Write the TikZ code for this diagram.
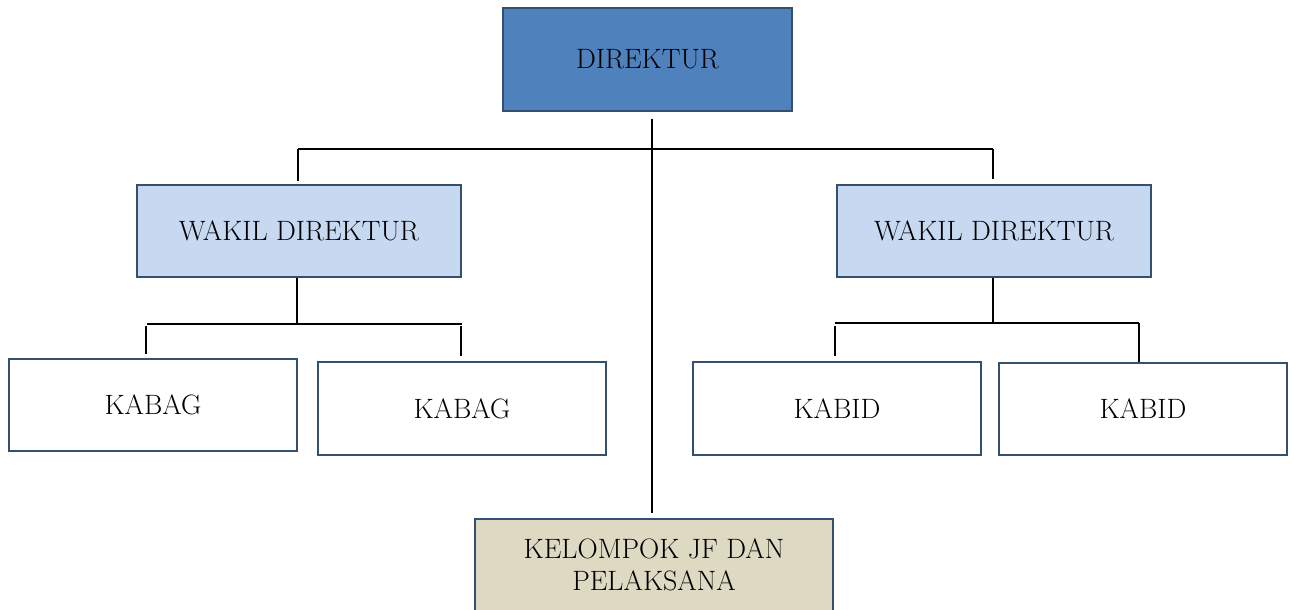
\documentclass[tikz,border=0pt]{standalone}
\usepackage{xcolor}
\definecolor{boxline}{HTML}{34506F}
\definecolor{dirfill}{HTML}{4F81BD}
\definecolor{wakilfill}{HTML}{C6D9F1}
\definecolor{kelfill}{HTML}{DDD9C3}
\begin{document}
\begin{tikzpicture}[x=1pt,y=-1pt,
  orgbox/.style={draw=boxline,line width=1.8pt,rectangle,inner sep=0pt,
    font=\fontsize{28}{33}\selectfont,align=center},
  link/.style={draw=black,line width=2.2pt}]
\useasboundingbox (0,0) rectangle (1294,610);

% boxes, positioned by their centres
\node[orgbox,fill=dirfill,minimum width=289pt,minimum height=103pt] (dir) at (647.5,59.5) {DIREKTUR};
\node[orgbox,fill=wakilfill,minimum width=324pt,minimum height=92pt] (wl) at (299,231) {WAKIL DIREKTUR};
\node[orgbox,fill=wakilfill,minimum width=314pt,minimum height=92pt] (wr) at (994,231) {WAKIL DIREKTUR};
\node[orgbox,fill=white,minimum width=288pt,minimum height=92pt] (kb1) at (153,405) {KABAG};
\node[orgbox,fill=white,minimum width=288pt,minimum height=93pt] (kb2) at (462,408.5) {KABAG};
\node[orgbox,fill=white,minimum width=288pt,minimum height=93pt] (kd1) at (837,408.5) {KABID};
\node[orgbox,fill=white,minimum width=288pt,minimum height=92pt] (kd2) at (1143,409) {KABID};
\node[orgbox,fill=kelfill,minimum width=358pt,minimum height=130pt] (kel) at (654,584) {};
\node[font=\fontsize{28}{32}\selectfont,align=center,anchor=north,inner sep=0pt] (keltext)
  at ([yshift=-20pt]kel.north) {KELOMPOK JF DAN\\PELAKSANA};

% junction points
\coordinate (tl) at (298,149);
\coordinate (tr) at (993,149);
\coordinate (ljoin) at (297,324);
\coordinate (ll) at (146,324);
\coordinate (lr) at (461,324);
\coordinate (rjoin) at (993,323);
\coordinate (rl) at (835,323);
\coordinate (rr) at (1139,323);

% director to the deputies and the functional group
\draw[link] ([yshift=-7pt]dir.south -| 652,0) -- ([yshift=5pt]kel.north -| 652,0);
\draw[link] (tl) -- (tr);
\draw[link] (tl) -- ([yshift=3pt]wl.north -| tl);
\draw[link] (tr) -- ([yshift=5pt]wr.north -| tr);

% left deputy to its heads of section
\draw[link] (wl.south -| ljoin) -- (ljoin);
\draw[link] ([xshift=1pt]ll) -- ([xshift=1pt]lr);
\draw[link] ([yshift=-2pt]ll) -- ([yshift=4pt]kb1.north -| ll);
\draw[link] ([yshift=-2pt]lr) -- ([yshift=5pt]kb2.north -| lr);

% right deputy to its heads of division
\draw[link] (wr.south -| rjoin) -- (rjoin);
\draw[link] (rl) -- (rr);
\draw[link] ([yshift=-3pt]rl) -- ([yshift=5pt]kd1.north -| rl);
\draw[link] (rr) -- (kd2.north -| rr);
\end{tikzpicture}
\end{document}
